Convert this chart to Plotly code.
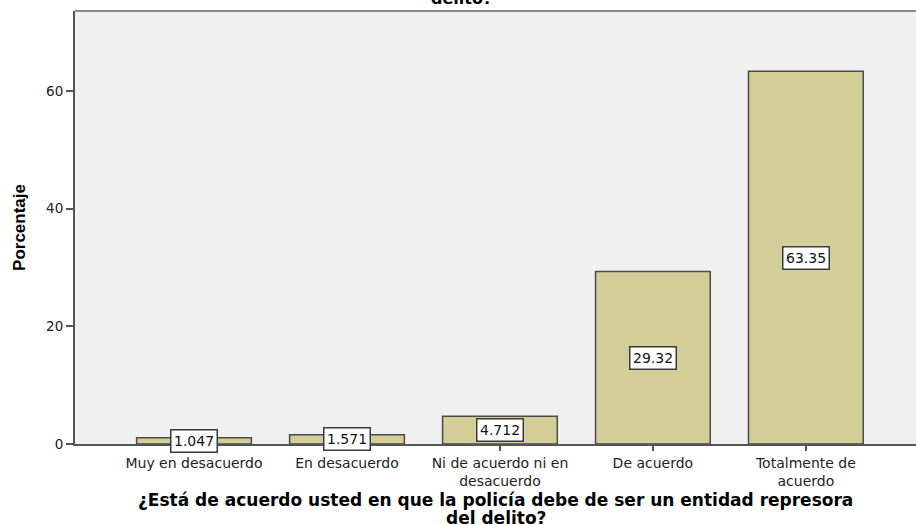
import plotly.graph_objects as go

categories = ["Muy en desacuerdo", "En desacuerdo", "Ni de acuerdo ni en<br>desacuerdo",
              "De acuerdo", "Totalmente de<br>acuerdo"]
porcentajes = [1.047, 1.571, 4.712, 29.32, 63.35]
y_ticks = [0, 20, 40, 60]
x_title_lines = ["¿Está de acuerdo usted en que la policía debe de ser un entidad represora",
                 "del delito?"]
y_title = "Porcentaje"
top_title_tail = "delito?"

W, H = 916, 525
L, R, T, B = 75, 0, 11, 81
pw, ph = W - L - R, H - T - B

def py(p):
    return (H - B - p) / ph

xs = list(range(len(categories)))

fig = go.Figure()
fig.add_trace(go.Bar(
    x=xs, y=porcentajes, width=0.75,
    marker=dict(color="#d3ce97", line=dict(color="#4a4a4a", width=1.5)),
    hoverinfo="y",
))

annotations = []
for x, v in zip(xs, porcentajes):
    annotations.append(dict(
        x=x, y=v / 2, xref="x", yref="y", text=f"{v:.4g}", showarrow=False,
        font=dict(family="DejaVu Sans", size=14, color="#111"),
        bgcolor="white", bordercolor="#3a3a3a", borderwidth=1.5, borderpad=2.5,
    ))

for line, p in zip(x_title_lines, [500, 517.5]):
    annotations.append(dict(
        x=0.5, y=py(p), xref="paper", yref="paper", text=f"<b>{line}</b>",
        showarrow=False, xanchor="center", yanchor="middle",
        font=dict(family="DejaVu Sans", size=17, color="#000"),
    ))

annotations.append(dict(
    x=(461 - L) / pw, y=py(10), xref="paper", yref="paper", text=f"<b>{top_title_tail}</b>",
    showarrow=False, xanchor="center", yanchor="bottom",
    font=dict(family="DejaVu Sans", size=16, color="#000"),
))

fig.update_layout(
    width=W, height=H,
    margin=dict(l=L, r=R, t=T, b=B, autoexpand=False),
    paper_bgcolor="white", plot_bgcolor="#f0f0f0",
    showlegend=False, bargap=0.25,
    annotations=annotations,
    shapes=[dict(type="line", xref="paper", yref="paper", x0=0, x1=1, y0=1, y1=1,
                 line=dict(color="#8a8a8a", width=2))],
    xaxis=dict(
        range=[-0.778, 4.72], tickmode="array", tickvals=xs, ticktext=categories,
        showgrid=False, zeroline=False, showline=True, linecolor="#555", linewidth=2,
        ticks="outside", ticklen=5, tickcolor="#555", tickwidth=1.5,
        tickfont=dict(family="DejaVu Sans", size=14, color="#222"),
        automargin=False,
    ),
    yaxis=dict(
        range=[0, 73.6], tickvals=y_ticks, showgrid=False, zeroline=False,
        showline=True, linecolor="#555", linewidth=2,
        ticks="outside", ticklen=7, tickcolor="#555", tickwidth=1.5,
        tickfont=dict(family="DejaVu Sans", size=13.5, color="#222"),
        title=dict(text=f"<b>{y_title}</b>", standoff=16,
                   font=dict(family="Liberation Sans", size=17, color="#000")),
        automargin=False,
    ),
)

fig.write_html(
    "out.html",
    config={"displayModeBar": False},
    post_script="document.body.style.margin='0px';document.body.style.overflow='hidden';",
)
